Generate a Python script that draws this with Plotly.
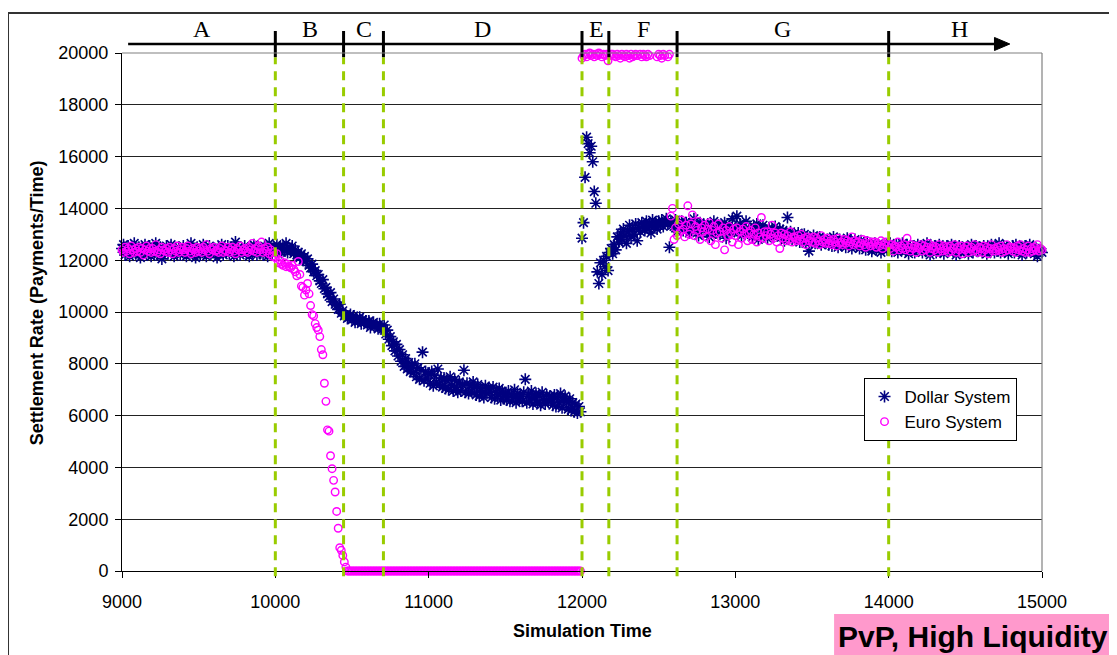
import plotly.graph_objects as go

# ---------------- data ----------------
time = list(range(9000, 15001, 10))

dollar_rate = [
    # A 9000-9990
    12450, 12600, 12200, 12350, 12550, 12150, 12400, 12300, 12650, 12250,
    12350, 12500, 12100, 12450, 12300, 12600, 12200, 12400, 12550, 12150,
    12300, 12450, 12650, 12200, 12350, 12500, 12050, 12400, 12300, 12550,
    12250, 12400, 12600, 12350, 12150, 12450, 12300, 12500, 12200, 12400,
    12550, 12300, 12150, 12450, 12350, 12650, 12250, 12400, 12100, 12500,
    12350, 12200, 12450, 12600, 12300, 12150, 12400, 12550, 12250, 12350,
    12450, 12300, 12100, 12500, 12350, 12600, 12200, 12400, 12300, 12550,
    12250, 12450, 12350, 12150, 12700, 12300, 12500, 12200, 12400, 12350,
    12550, 12250, 12400, 12150, 12450, 12300, 12600, 12350, 12200, 12500,
    12300, 12450, 12200, 12550, 12350, 12150, 12650, 12400, 12250, 12450,
    # B 10000-10490
    12450, 12600, 12350, 12500, 12300, 12550, 12400, 12650, 12300, 12450,
    12350, 12550, 12250, 12400, 12200, 12300, 12100, 12250, 12000, 12150,
    11950, 12050, 11800, 11700, 11850, 11550, 11600, 11400, 11450, 11200,
    11100, 11250, 10900, 10950, 10700, 10600, 10750, 10400, 10500, 10300,
    10250, 10100, 10300, 9950, 10050, 9850, 9900, 9750, 9800, 9900,
    # C 10500-10690
    9700, 9850, 9600, 9750, 9650, 9800, 9550, 9700, 9600, 9650,
    9500, 9650, 9400, 9550, 9600, 9450, 9500, 9350, 9550, 9400,
    # D 10700-11990
    9350, 9500, 9150, 9300, 8950, 9050, 8700, 8850, 8500, 8750,
    8300, 8550, 8100, 8350, 7900, 8200, 7800, 8050, 7700, 7950,
    7650, 8000, 7500, 7850, 7400, 7750, 8450, 7350, 7700, 7450,
    7600, 7250, 7700, 7150, 7550, 7300, 7800, 7200, 7450, 7100,
    7450, 7050, 7350, 7000, 7500, 7150, 6950, 7400, 7100, 6900,
    7300, 6950, 7200, 7750, 6900, 7250, 6850, 7150, 6950, 7300,
    7100, 6800, 7200, 6750, 7050, 6900, 6700, 7150, 6850, 7050,
    6950, 6700, 7100, 6650, 6900, 6800, 7050, 6600, 6950, 6750,
    6850, 6600, 6950, 6550, 6800, 6700, 7000, 6500, 6850, 6650,
    6750, 6550, 6900, 7400, 6500, 6800, 6600, 6950, 6450, 6700,
    6850, 6500, 6750, 6400, 6900, 6600, 6450, 6800, 6550, 6750,
    6650, 6400, 6800, 6350, 6700, 6500, 6850, 6300, 6600, 6750,
    6550, 6250, 6650, 6200, 6500, 6150, 6450, 6100, 6350, 6150,
    # E / F 12000-12590
    12850, 13450, 15200, 16750, 16500, 16150, 16400, 15800, 14650, 14200,
    11550, 11100, 11900, 11450, 12000, 11750, 12150, 11600, 12300, 12450,
    12250, 12600, 12400, 12900, 12700, 13050, 12800, 13200, 12950, 12650,
    13100, 13350, 12900, 13200, 13000, 13400, 12750, 13250, 13100, 13450,
    13300, 13150, 13500, 13250, 13400, 13050, 13550, 13300, 13450, 13200,
    13500, 13350, 13550, 13300, 13450, 13600, 13400, 12500, 13500, 13350,
    # G 12600-13990
    13300, 13550, 13100, 13400, 13250, 13500, 13150, 13350, 13450, 13200,
    13050, 13400, 13250, 13600, 13150, 13300, 12950, 13450, 13200, 13350,
    13250, 13100, 13400, 12900, 13300, 13150, 13500, 13050, 13250, 13350,
    13000, 13300, 13150, 13450, 12850, 13200, 13350, 13050, 13600, 13150,
    13250, 13700, 13100, 13400, 12950, 13300, 13150, 13500, 13050, 13200,
    13150, 12900, 13300, 13050, 13400, 12800, 13200, 13050, 13350, 12950,
    13100, 12850, 13250, 13000, 13150, 12900, 13300, 12950, 13050, 13200,
    12900, 13150, 12750, 13050, 13650, 12950, 13100, 12800, 13000, 12900,
    12850, 13050, 12700, 12950, 12800, 13000, 12650, 12900, 12350, 12850,
    12750, 12950, 12650, 12850, 12700, 12900, 12600, 12800, 12750, 12650,
    12800, 12600, 12750, 12550, 12900, 12650, 12700, 12500, 12800, 12600,
    12650, 12750, 12500, 12850, 12600, 12700, 12450, 12650, 12800, 12550,
    12600, 12450, 12750, 12550, 12650, 12400, 12700, 12500, 12600, 12350,
    12550, 12650, 12400, 12600, 12500, 12300, 12600, 12450, 12550, 12400,
    # H 14000-15000
    12500, 12650, 12350, 12550, 12450, 12600, 12300, 12500, 12400, 12650,
    12450, 12350, 12600, 12250, 12500, 12400, 12550, 12300, 12450, 12600,
    12400, 12550, 12300, 12500, 12350, 12650, 12450, 12200, 12500, 12400,
    12550, 12300, 12450, 12600, 12350, 12500, 12250, 12450, 12550, 12350,
    12450, 12600, 12350, 12500, 12200, 12450, 12550, 12300, 12500, 12400,
    12350, 12500, 12250, 12450, 12600, 12300, 12450, 12550, 12350, 12500,
    12450, 12300, 12550, 12400, 12250, 12500, 12350, 12600, 12450, 12300,
    12500, 12400, 12650, 12300, 12450, 12550, 12350, 12500, 12250, 12450,
    12400, 12550, 12300, 12600, 12450, 12350, 12500, 12200, 12450, 12550,
    12300, 12450, 12600, 12350, 12500, 12250, 12450, 12150, 12400, 12350,
    12300,
]

euro_rate = [
    # A 9000-9990
    12400, 12300, 12500, 12350, 12450, 12250, 12550, 12400, 12300, 12450,
    12350, 12500, 12300, 12450, 12200, 12400, 12550, 12350, 12450, 12300,
    12450, 12350, 12600, 12300, 12400, 12250, 12500, 12400, 12350, 12450,
    12300, 12500, 12400, 12250, 12450, 12350, 12550, 12300, 12400, 12500,
    12400, 12300, 12450, 12550, 12350, 12250, 12450, 12400, 12300, 12500,
    12350, 12450, 12300, 12500, 12400, 12600, 12350, 12250, 12450, 12400,
    12500, 12350, 12400, 12300, 12450, 12550, 12300, 12400, 12350, 12500,
    12300, 12400, 12500, 12350, 12250, 12450, 12400, 12550, 12300, 12400,
    12450, 12350, 12300, 12500, 12400, 12650, 12350, 12450, 12300, 12550,
    12400, 12700, 12300, 12450, 12350, 12500, 12250, 12400, 12150, 12300,
    # B 10000-10490
    12100, 12250, 11900, 12000, 11850, 11800, 11900, 11750, 11850, 11750,
    11700, 11800, 11650, 11550, 11400, 11950, 11450, 11000, 10950, 10650,
    10850, 11100, 10700, 10250, 9900, 9850, 9550, 9400, 9300, 9050,
    8550, 8350, 7250, 6550, 5450, 5400, 4450, 3950, 3500, 3050,
    2300, 1650, 900, 800, 600, 350, 150, 0, 0, 0,
    # C / D 10500-11990
    0, 0, 0, 0, 0, 0, 0, 0, 0, 0,
    0, 0, 0, 0, 0, 0, 0, 0, 0, 0,
    0, 0, 0, 0, 0, 0, 0, 0, 0, 0,
    0, 0, 0, 0, 0, 0, 0, 0, 0, 0,
    0, 0, 0, 0, 0, 0, 0, 0, 0, 0,
    0, 0, 0, 0, 0, 0, 0, 0, 0, 0,
    0, 0, 0, 0, 0, 0, 0, 0, 0, 0,
    0, 0, 0, 0, 0, 0, 0, 0, 0, 0,
    0, 0, 0, 0, 0, 0, 0, 0, 0, 0,
    0, 0, 0, 0, 0, 0, 0, 0, 0, 0,
    0, 0, 0, 0, 0, 0, 0, 0, 0, 0,
    0, 0, 0, 0, 0, 0, 0, 0, 0, 0,
    0, 0, 0, 0, 0, 0, 0, 0, 0, 0,
    0, 0, 0, 0, 0, 0, 0, 0, 0, 0,
    0, 0, 0, 0, 0, 0, 0, 0, 0, 0,
    # E / F 12000-12590
    19800, 19900, 19950, 19850, 19950, 20000, 19900, 19950, 19850, 19950,
    19900, 20000, 19950, 19850, 19950, 19900, 19950, 19700, 19900, 19950,
    19950, 19900, 19850, 19950, 19900, 19800, 19950, 19900, 19850, 19950,
    19900, 19800, 19950, 19850, 19900, 19950, 19900, None, 19950, 19850,
    19950, 19900, 19850, 19950, 19900, None, None, None, None, 19850,
    19950, 19900, 19800, 19950, 19900, None, 19850, 19950, 13700, 14000,
    # G 12600-13990
    12800, 13250, 12950, 13400, 13100, 13550, 13200, 12900, 13350, 14100,
    13000, 13400, 13750, 12950, 13300, 13150, 13500, 12800, 13250, 13100,
    13350, 12900, 13200, 13450, 12750, 13150, 13300, 12600, 13050, 13400,
    13100, 12850, 13250, 12400, 13150, 12950, 13300, 13050, 12700, 13200,
    12950, 13250, 12600, 13100, 12850, 13200, 13000, 13300, 12750, 13050,
    13150, 12800, 13000, 13250, 12700, 13050, 12900, 13650, 12850, 13100,
    12950, 13100, 12750, 13000, 13350, 12850, 13050, 12700, 12950, 12450,
    13050, 12850, 13000, 12750, 12950, 12800, 13100, 12700, 12900, 12850,
    12750, 12950, 12800, 13000, 12700, 12850, 12600, 12900, 12750, 12850,
    12700, 12900, 12650, 12850, 12750, 12600, 12950, 12700, 12800, 12650,
    12850, 12650, 12750, 12600, 12800, 12700, 12550, 12850, 12650, 12700,
    12600, 12800, 12650, 12750, 12550, 12700, 12900, 12600, 12750, 12650,
    12700, 12550, 12650, 12800, 12600, 12500, 12750, 12650, 12550, 12700,
    12600, 12700, 12500, 12650, 12550, 12750, 12450, 12600, 12700, 12550,
    # H 14000-15000
    12650, 12450, 12600, 12350, 12550, 12500, 12700, 12400, 12550, 12450,
    12600, 12400, 12850, 12500, 12350, 12600, 12450, 12550, 12300, 12500,
    12450, 12600, 12350, 12550, 12400, 12500, 12650, 12300, 12450, 12550,
    12400, 12500, 12300, 12600, 12450, 12350, 12550, 12400, 12500, 12300,
    12550, 12350, 12450, 12600, 12300, 12500, 12400, 12550, 12250, 12450,
    12400, 12550, 12300, 12450, 12500, 12350, 12600, 12400, 12300, 12500,
    12450, 12300, 12550, 12400, 12500, 12250, 12450, 12600, 12350, 12450,
    12350, 12500, 12400, 12550, 12300, 12450, 12350, 12600, 12400, 12500,
    12500, 12350, 12450, 12300, 12550, 12400, 12600, 12350, 12450, 12300,
    12400, 12550, 12300, 12450, 12350, 12500, 12400, 12600, 12350, 12450,
    12400,
]

phase_bounds = [10000, 10445, 10705, 12000, 12175, 12620, 14000]
phase_labels = ["A", "B", "C", "D", "E", "F", "G", "H"]
phase_label_x = [9520, 10225, 10575, 11350, 12095, 12400, 13310, 14460]
timeline_start = 9040
timeline_end = 14790

x_ticks = [9000, 10000, 11000, 12000, 13000, 14000, 15000]
x_tick_text = ["9000", "10000", "11000", "12000", "13000", "14000", "15000"]
y_ticks = [0, 2000, 4000, 6000, 8000, 10000, 12000, 14000, 16000, 18000, 20000]
y_tick_text = ["0", "2000", "4000", "6000", "8000", "10000", "12000",
               "14000", "16000", "18000", "20000"]

assert len(dollar_rate) == len(time) and len(euro_rate) == len(time)

FONT = "Liberation Sans, Arial, sans-serif"
SERIF = "Liberation Serif, Times New Roman, serif"

fig = go.Figure()
fig.add_trace(go.Scatter(
    x=time, y=dollar_rate, mode="markers", name="Dollar System",
    marker=dict(symbol="asterisk-open", size=10, color="#000080",
                line=dict(color="#000080", width=1.6)),
    cliponaxis=False,
))
fig.add_trace(go.Scatter(
    x=time, y=euro_rate, mode="markers", name="Euro System",
    marker=dict(symbol="circle-open", size=7.5, color="#FF00FF",
                line=dict(color="#FF00FF", width=1.4)),
    cliponaxis=False,
))

shapes = []
# phase boundaries (green dashed)
for b in phase_bounds:
    shapes.append(dict(type="line", xref="x", yref="paper", x0=b, x1=b,
                       y0=-0.01, y1=0.992, layer="above",
                       line=dict(color="#99CC00", width=3, dash="9px,7px")))
# timeline arrow
shapes.append(dict(type="line", xref="x", yref="paper", x0=timeline_start,
                   x1=timeline_end - 90, y0=1.0174, y1=1.0174,
                   line=dict(color="black", width=2.5)))
shapes.append(dict(type="path", xref="x", yref="paper",
                   path=f"M {timeline_end-100},1.030 L {timeline_end},1.0174 L {timeline_end-100},1.0048 Z",
                   fillcolor="black", line=dict(color="black", width=1)))
for b in phase_bounds:
    shapes.append(dict(type="line", xref="x", yref="paper", x0=b, x1=b,
                       y0=0.992, y1=1.0425, line=dict(color="black", width=3)))
# plot area border (top/right grey)
shapes.append(dict(type="line", xref="paper", yref="paper", x0=0, x1=1, y0=1, y1=1,
                   line=dict(color="#808080", width=1.2)))
shapes.append(dict(type="line", xref="paper", yref="paper", x0=1, x1=1, y0=0, y1=1,
                   line=dict(color="#808080", width=1.2)))
# chart-area frame (top and left)
shapes.append(dict(type="line", xref="paper", yref="paper", x0=-0.1239, x1=1.1,
                   y0=1.0772, y1=1.0772, line=dict(color="#333333", width=2)))
shapes.append(dict(type="line", xref="paper", yref="paper", x0=-0.1239, x1=-0.1239,
                   y0=1.0772, y1=-0.2, line=dict(color="#333333", width=2)))
# pink label box
shapes.append(dict(type="rect", xref="paper", yref="paper", x0=0.774, x1=1.09,
                   y0=-0.083, y1=-0.17, fillcolor="#FF99CC", line=dict(width=0)))

annotations = []
for lab, lx in zip(phase_labels, phase_label_x):
    annotations.append(dict(x=lx, y=1.047, xref="x", yref="paper", text=lab,
                            showarrow=False, xanchor="center", yanchor="middle",
                            font=dict(family=SERIF, size=24, color="black")))
annotations.append(dict(x=0.5, y=-0.116, xref="paper", yref="paper",
                        text="<b>Simulation Time</b>", showarrow=False,
                        xanchor="center", yanchor="middle",
                        font=dict(family=FONT, size=18, color="black")))
annotations.append(dict(x=-0.0924, y=0.519, xref="paper", yref="paper",
                        text="<b>Settlement Rate (Payments/Time)</b>", showarrow=False,
                        textangle=-90, xanchor="center", yanchor="middle",
                        font=dict(family=FONT, size=18, color="black")))
annotations.append(dict(x=0.776, y=-0.127, xref="paper", yref="paper",
                        text="<b>PvP, High Liquidity</b>", showarrow=False,
                        xanchor="left", yanchor="middle",
                        font=dict(family=FONT, size=30, color="black")))

fig.update_layout(
    width=1109, height=647,
    margin=dict(l=114, r=75, t=45, b=84),
    paper_bgcolor="white", plot_bgcolor="white",
    font=dict(family=FONT, size=18, color="black"),
    showlegend=True,
    legend=dict(x=0.806, y=0.3726, xanchor="left", yanchor="top",
                bgcolor="white", bordercolor="black", borderwidth=1,
                font=dict(family=FONT, size=17, color="black"),
                itemwidth=30, tracegroupgap=4),
    shapes=shapes, annotations=annotations,
    xaxis=dict(range=[9000, 15000], tickvals=x_ticks, ticktext=x_tick_text,
               ticks="outside", ticklen=6,
               tickcolor="black", showgrid=False, zeroline=False, showline=True,
               linecolor="black", linewidth=1, ticklabelstandoff=8,
               tickfont=dict(family=FONT, size=18, color="black")),
    yaxis=dict(range=[0, 20000], tickvals=y_ticks, ticktext=y_tick_text,
               ticks="outside", ticklen=6,
               tickcolor="black", showgrid=True, gridcolor="#222222", gridwidth=1,
               zeroline=False, showline=True, linecolor="black", linewidth=1,
               ticklabelstandoff=3,
               tickfont=dict(family=FONT, size=18, color="black")),
)

fig.write_html("out.html")
